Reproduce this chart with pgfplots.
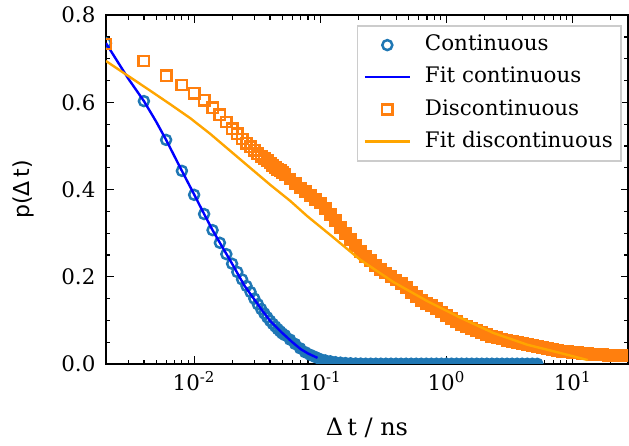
\documentclass[border=0pt]{standalone}
\usepackage{fontspec}
\setmainfont{DejaVu Serif}
\newfontfamily\dvsans{DejaVu Sans}
\usepackage{pgfplots}
\usepackage{pgfplotstable}
\pgfplotsset{compat=1.18}
\definecolor{cA}{HTML}{1F77B4}
\definecolor{cB}{HTML}{FF7F0E}
\definecolor{fitA}{HTML}{0000FF}
\definecolor{fitB}{HTML}{FFA500}

\pgfplotstableread{
x y
0.002 0.736
0.004 0.603
0.006 0.514
0.008 0.443
0.010 0.388
0.012 0.344
0.014 0.307
0.016 0.278
0.018 0.252
0.020 0.230
0.022 0.211
0.024 0.194
0.026 0.179
0.028 0.165
0.030 0.150
0.032 0.137
0.034 0.126
0.036 0.116
0.038 0.107
0.040 0.099
0.042 0.092
0.044 0.086
0.046 0.080
0.048 0.075
0.050 0.070
}\contsparse

\pgfplotstableread{
x y
0.05248 0.066
0.05754 0.056
0.06310 0.046
0.06918 0.036
0.07586 0.027
0.08318 0.021
0.09120 0.016
0.1000 0.011
0.1096 0.008
0.1202 0.006
0.1318 0.004
0.1445 0.003
0.1585 0.002
0.1738 0.0015
0.1905 0.001
0.2089 0.0008
0.2291 0.0005
0.2512 0.0005
0.2754 0.0005
0.3020 0.0005
0.3311 0.0005
0.3631 0.0005
0.3981 0.0005
0.4365 0.0005
0.4786 0.0005
0.5248 0.0005
0.5754 0.0005
0.6310 0.0005
0.6918 0.0005
0.7586 0.0005
0.8318 0.0005
0.9120 0.0005
1.000 0.0005
1.096 0.0005
1.202 0.0005
1.318 0.0005
1.445 0.0005
1.585 0.0005
1.738 0.0005
1.905 0.0005
2.089 0.0005
2.291 0.0005
2.512 0.0005
2.754 0.0005
3.020 0.0005
3.311 0.0005
3.631 0.0005
3.981 0.0005
4.365 0.0005
4.786 0.0005
5.248 0.0003
}\contdense

\pgfplotstableread{
x y
0.002 0.736
0.003 0.655
0.004 0.603
0.005 0.556
0.006 0.514
0.008 0.443
0.010 0.389
0.012 0.344
0.014 0.307
0.016 0.278
0.020 0.230
0.025 0.180
0.030 0.148
0.035 0.121
0.040 0.099
0.050 0.071
0.060 0.050
0.070 0.034
0.080 0.024
0.095 0.014
}\contfit

\pgfplotstableread{
x y
0.002 0.734
0.004 0.695
0.006 0.661
0.008 0.640
0.010 0.621
0.012 0.605
0.014 0.588
0.016 0.572
0.018 0.555
0.020 0.540
0.022 0.528
0.024 0.516
0.026 0.506
0.028 0.498
0.030 0.490
0.032 0.482
0.034 0.476
0.036 0.471
0.038 0.466
0.040 0.461
0.042 0.456
0.044 0.451
0.046 0.447
0.048 0.443
0.050 0.4385
}\discsparse

\pgfplotstableread{
x y
0.05248 0.4339
0.05754 0.4243
0.06310 0.4142
0.06918 0.4037
0.07586 0.3950
0.08318 0.3865
0.09120 0.3778
0.1000 0.3693
0.1096 0.3557
0.1202 0.3422
0.1318 0.3284
0.1445 0.3140
0.1585 0.2995
0.1738 0.2858
0.1905 0.2718
0.2089 0.2583
0.2291 0.2468
0.2512 0.2365
0.2754 0.2261
0.3020 0.2170
0.3311 0.2087
0.3631 0.2007
0.3981 0.1927
0.4365 0.1844
0.4786 0.1745
0.5248 0.1647
0.5754 0.1548
0.6310 0.1461
0.6918 0.1394
0.7586 0.1333
0.8318 0.1264
0.9120 0.1193
1.000 0.1119
1.096 0.1048
1.202 0.0975
1.318 0.0906
1.445 0.0860
1.585 0.0814
1.738 0.0771
1.905 0.0725
2.089 0.0679
2.291 0.0633
2.512 0.0601
2.754 0.0573
3.020 0.0546
3.311 0.0518
3.631 0.0491
3.981 0.0463
4.365 0.0438
4.786 0.0415
5.248 0.0394
5.754 0.0374
6.310 0.0351
6.918 0.0330
7.586 0.0310
8.318 0.0294
9.120 0.0280
10.00 0.0268
10.96 0.0257
12.02 0.0245
13.18 0.0233
14.45 0.0224
15.85 0.0216
17.38 0.0210
19.05 0.0203
20.89 0.0197
22.91 0.0191
25.12 0.0186
27.54 0.0180
30.20 0.0176
}\discdense

\pgfplotstableread{
x y
0.002 0.695
0.0031 0.658
0.00448 0.627
0.00645 0.596
0.0093 0.564
0.0134 0.528
0.0193 0.489
0.0278 0.450
0.0401 0.411
0.0578 0.374
0.0789 0.339
0.120 0.296
0.2075 0.239
0.379 0.188
0.706 0.144
1.291 0.106
2.36 0.071
4.39 0.044
8.04 0.025
13.15 0.009
}\discfit

\begin{document}
\fontsize{10.7}{12.8}\selectfont
\begin{tikzpicture}
\begin{axis}[
  name=ax,
  xmode=log,
  scale only axis,
  width=261.25pt, height=174.5pt,
  xmin=0.002, xmax=27.5, ymin=0, ymax=0.8,
  xtick={0.01,0.1,1,10},
  xticklabels={10\textsuperscript{-2},10\textsuperscript{-1},10\textsuperscript{0},10\textsuperscript{1}},
  minor xtick={0.002,0.003,0.004,0.005,0.006,0.007,0.008,0.009,0.02,0.03,0.04,0.05,0.06,0.07,0.08,0.09,0.2,0.3,0.4,0.5,0.6,0.7,0.8,0.9,2,3,4,5,6,7,8,9,20},
  ytick={0,0.2,0.4,0.6,0.8},
  minor y tick num=3,
  yticklabel style={/pgf/number format/fixed, /pgf/number format/fixed zerofill, /pgf/number format/precision=1, /pgf/number format/assume math mode=true, xshift=-1.5pt},
  tick align=inside,
  xtick pos=both, ytick pos=both,
  major tick length=3.8pt, minor tick length=2.2pt,
  every tick/.style={black, line width=0.6pt},
  axis line style={line width=0.9pt},
  clip marker paths=true,
  xlabel={Δ\,t / ns},
  xlabel style={font=\fontsize{12}{14}\selectfont, at={(axis description cs:0.5,0)}, anchor=base, yshift=-36pt},
  ylabel={\dvsans p(Δ\,t)},
  ylabel style={font=\fontsize{11}{13}\selectfont, at={(axis description cs:-0.157,0.5)}, anchor=center},
  legend cell align=left,
  legend style={at={(rel axis cs:1,1)}, anchor=north east, xshift=-3.25pt, yshift=-5pt,
    draw=black!20, line width=0.8pt, fill=white, inner xsep=3pt, inner ysep=3.6pt,
    row sep=4.2pt, column sep=6pt,
    nodes={inner sep=1pt, text height=7.8pt, text depth=2.1pt},
    font=\fontsize{10.7}{12.8}\selectfont},
  legend image code/.code={\draw[mark repeat=2,mark phase=2,#1] plot coordinates {(0pt,0pt) (11.25pt,0pt) (22.5pt,0pt)};},
]
\addplot[only marks, mark=o, mark size=2.5pt, color=cA, line width=1.25pt] table {\contsparse};
\addlegendentry{Continuous}
\addplot[only marks, mark=*, mark size=2.5pt, color=cA, fill=cA, line width=1.25pt, forget plot] table {\contdense};
\addplot[color=fitA, line width=1.2pt, mark=none] table {\contfit};
\addlegendentry{Fit continuous}
\addplot[only marks, mark=square, mark size=2.6pt, color=cB, line width=1.25pt] table {\discsparse};
\addlegendentry{Discontinuous}
\addplot[only marks, mark=square*, mark size=2.6pt, color=cB, fill=cB, line width=1.25pt, forget plot] table {\discdense};
\addplot[color=fitB, line width=1.2pt, mark=none] table {\discfit};
\addlegendentry{Fit discontinuous}
\end{axis}
\path[use as bounding box] ([xshift=-53pt,yshift=-38.5pt]ax.south west) rectangle ([xshift=-0.3pt,yshift=6pt]ax.north east);
\end{tikzpicture}
\end{document}
